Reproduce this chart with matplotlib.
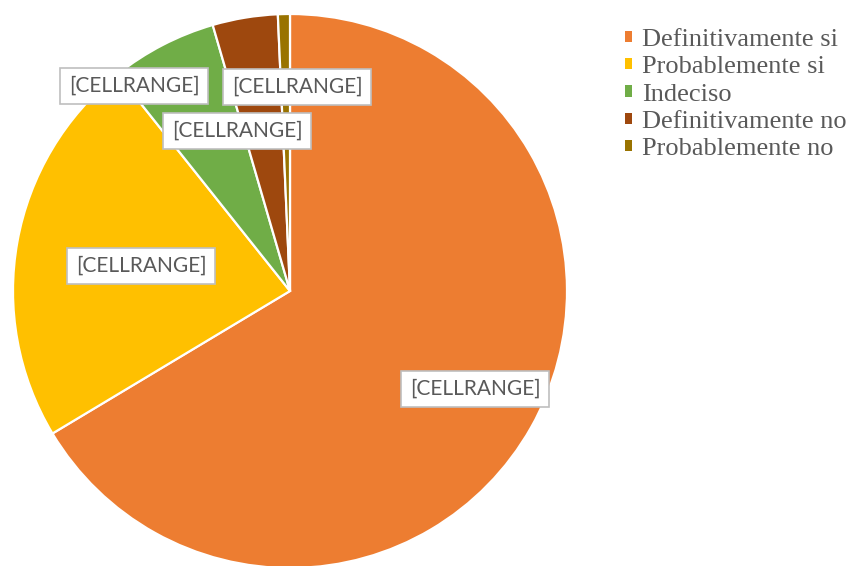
"""Pie chart: intencion de respuesta."""

import matplotlib.pyplot as plt
from matplotlib.patches import Patch
from matplotlib.font_manager import FontProperties

# Data ------------------------------------------------------------------------
categories = [
    'Definitivamente si',
    'Probablemente si',
    'Indeciso',
    'Definitivamente no',
    'Probablemente no',
]
shares = [66.4, 22.9, 6.2, 3.8, 0.7]
label_text = '[CELLRANGE]'

colors = ['#ED7D31', '#FFC000', '#70AD47', '#9E480E', '#997300']

# Figure geometry (pixels) ------------------------------------------------------
W, H = 851, 566
cx, cy, r = 290, 291, 277


def px(x, y):
    """pixel (from top-left) -> pie data coordinates"""
    return (x - cx) / r, (cy - y) / r


fig = plt.figure(figsize=(W / 100, H / 100), dpi=100)
ax = fig.add_axes([(cx - r) / W, (H - cy - r) / H, 2 * r / W, 2 * r / H])

ax.pie(shares, colors=colors, startangle=90, counterclock=False,
       radius=1, wedgeprops=dict(edgecolor='white', linewidth=1.6))
ax.set_xlim(-1, 1)
ax.set_ylim(-1, 1)
ax.set_aspect('equal')
ax.axis('off')

# data label boxes (placed by hand, like the original)
label_pos = [(475, 389), (141, 266), (134, 86), (237, 131), (297, 87)]
box = dict(boxstyle='square,pad=0.4', facecolor='white', edgecolor='#BFBFBF', linewidth=1.2)
for (lx, ly) in label_pos:
    x, y = px(lx, ly)
    ax.text(x, y, label_text, ha='center', va='center', fontsize=15,
            family='Lato', color='#595959', bbox=box, clip_on=False)

serif = FontProperties(family=['Liberation Serif', 'DejaVu Serif'], size=19)
handles = [Patch(facecolor=c, edgecolor='none') for c in colors]
leg = fig.legend(handles, categories, loc='upper left',
                 bbox_to_anchor=(625 / W, 1 - 29 / H),
                 frameon=False, borderpad=0, borderaxespad=0,
                 handlelength=0.27, handleheight=0.27,
                 handletextpad=0.38, labelspacing=0.2, prop=serif)
for t in leg.get_texts():
    t.set_color('#595959')

fig.savefig('out.png', dpi=100)
